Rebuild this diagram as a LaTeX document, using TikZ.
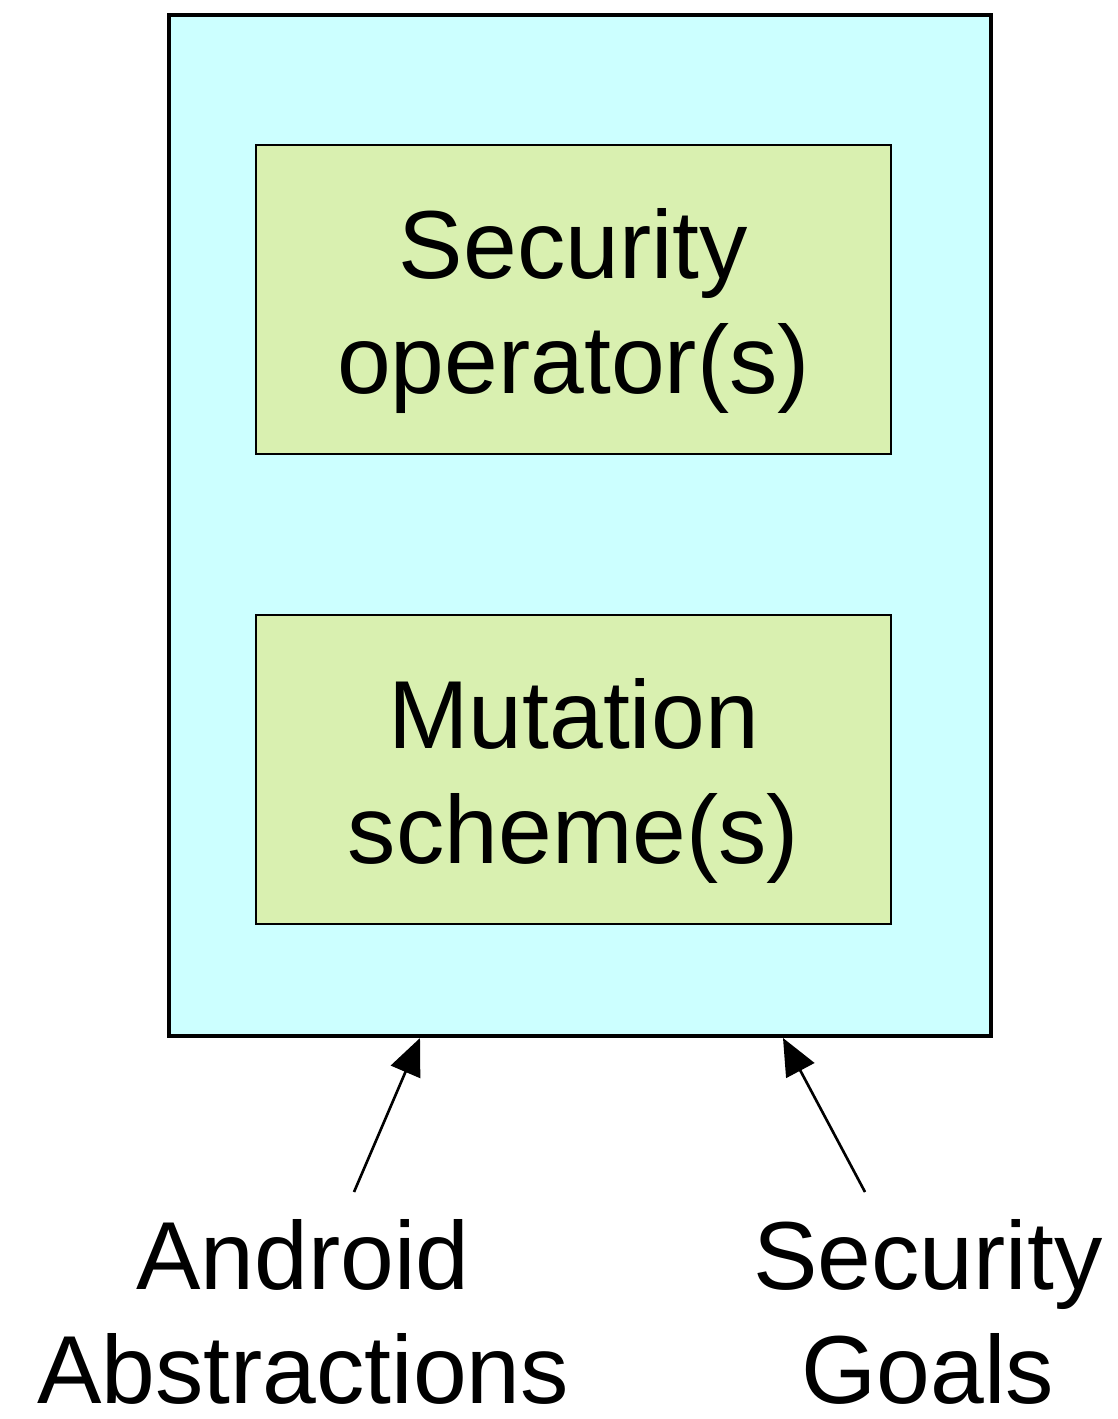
\documentclass[tikz,border=0pt]{standalone}
\usepackage{fontspec}
\setmainfont{Liberation Sans}
\usetikzlibrary{arrows.meta}
\begin{document}
\begin{tikzpicture}[x=0.02cm,y=-0.02cm,
  outerbox/.style={draw=black,line width=2.3pt,fill={rgb,255:red,204;green,255;blue,255}},
  innerbox/.style={draw=black,line width=1.1pt,fill={rgb,255:red,217;green,240;blue,176}},
  bigtext/.style={font=\fontsize{55}{65}\selectfont,align=center,inner sep=0pt},
  feed/.style={line width=1.5pt,-{Triangle[length=21pt,width=18pt]}}]
\useasboundingbox (0,0) rectangle (1118,1419);
% frame holding both components
\draw[outerbox] (169,15) rectangle (991,1036);
\coordinate (frameL) at (420,1038);
\coordinate (frameR) at (783,1038);
% components
\draw[innerbox] (256,145) rectangle (891,454);
\node[bigtext] (secop) at (573.5,311) {Security\\operator(s)};
\draw[innerbox] (256,615) rectangle (891,924);
\node[bigtext] (mutsch) at (573.5,781) {Mutation\\scheme(s)};
% inputs
\node[bigtext,anchor=north] (android) at (303,1219) {Android\\Abstractions};
\node[bigtext,anchor=north] (goals) at (928,1219) {Security\\Goals};
\coordinate (androidTop) at (354,1192);
\coordinate (goalsTop) at (865,1192);
\draw[feed] (androidTop) -- (frameL);
\draw[feed] (goalsTop) -- (frameR);
\end{tikzpicture}
\end{document}
